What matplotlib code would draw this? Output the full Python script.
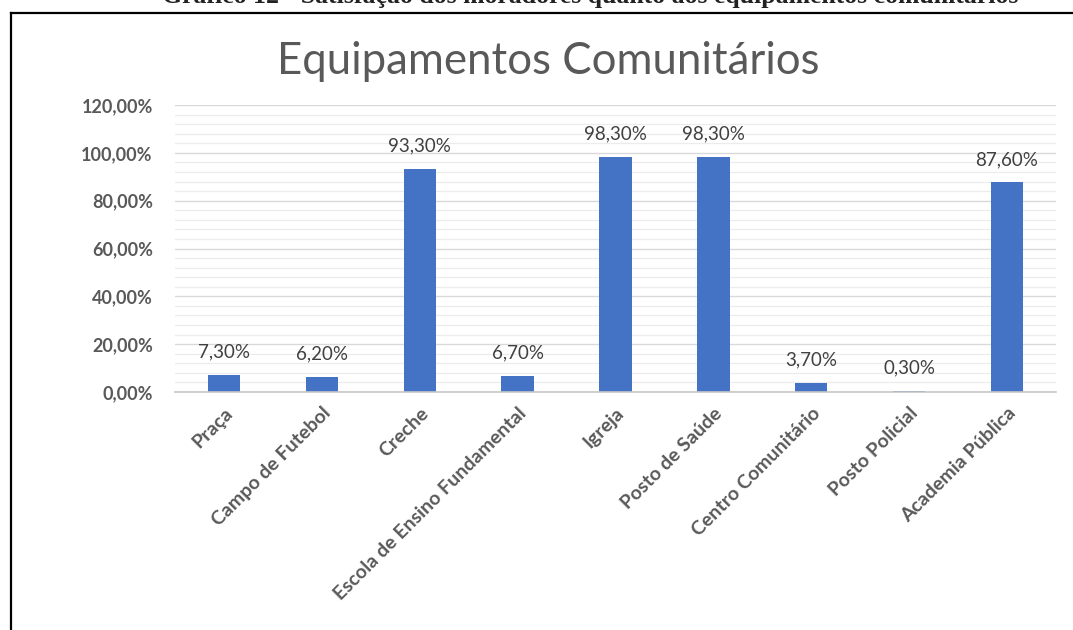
import matplotlib
matplotlib.use("Agg")
import matplotlib.pyplot as plt
from matplotlib.ticker import MultipleLocator, FuncFormatter
from matplotlib.lines import Line2D

categories = ["Praça", "Campo de Futebol", "Creche", "Escola de Ensino Fundamental",
              "Igreja", "Posto de Saúde", "Centro Comunitário", "Posto Policial",
              "Academia Pública"]
values = [7.3, 6.2, 93.3, 6.7, 98.3, 98.3, 3.7, 0.3, 87.6]

title = "Equipamentos Comunitários"
caption = "Gráfico 12 - Satisfação dos moradores quanto aos equipamentos comunitários"

bar_color = "#4472C4"
text_gray = "#595959"
label_gray = "#404040"

def pct(v):
    return f"{v:.2f}".replace(".", ",") + "%"

fig = plt.figure(figsize=(10.73, 6.30), dpi=100)
W, H = 1073, 630

# caption above the framed chart
fig.text(590 / W, 1 - 3 / H, caption, ha="center", va="baseline",
         fontsize=18.5, fontweight="bold", family="Liberation Serif", color="#222222")

# chart frame (left and top edges)
fig.add_artist(Line2D([11 / W, 11 / W], [0, 1 - 13 / H], transform=fig.transFigure,
                      color="black", lw=1.6))
fig.add_artist(Line2D([11 / W, 1], [1 - 13 / H, 1 - 13 / H], transform=fig.transFigure,
                      color="black", lw=1.6))

ax = fig.add_axes([175 / W, 1 - 392 / H, (1056 - 175) / W, (392 - 105) / H])

x = range(len(categories))
ax.bar(x, values, width=0.33, color=bar_color, zorder=3)
ax.set_xlim(-0.5, len(categories) - 0.5)
ax.set_ylim(0, 120)

ax.yaxis.set_major_locator(MultipleLocator(20))
ax.yaxis.set_minor_locator(MultipleLocator(4))
ax.yaxis.set_major_formatter(FuncFormatter(lambda v, _: pct(v)))
ax.grid(axis="y", which="major", color="#d9d9d9", lw=1.0, zorder=0)
ax.grid(axis="y", which="minor", color="#ececec", lw=0.9, zorder=0)

for s in ["top", "right", "left"]:
    ax.spines[s].set_visible(False)
ax.spines["bottom"].set_color("#c8c8c8")
ax.spines["bottom"].set_linewidth(1.2)
ax.spines["bottom"].set_zorder(4)

ax.tick_params(axis="both", which="both", length=0)
ax.tick_params(axis="y", pad=16)
for lab in ax.get_yticklabels():
    lab.set_fontfamily("Lato")
    lab.set_fontweight("bold")
    lab.set_fontsize(13)
    lab.set_color(text_gray)

ax.set_xticks(list(x))
ax.set_xticklabels(categories, rotation=45, ha="right", rotation_mode="anchor",
                   fontfamily="Lato", fontweight="bold", fontsize=14, color=text_gray)
ax.tick_params(axis="x", pad=9)

for xi, v in zip(x, values):
    ax.annotate(pct(v), (xi, v), xytext=(0, 16.5), textcoords="offset points",
                ha="center", va="center", fontsize=13.5, family="Lato", color=label_gray)

fig.text(548 / W, 1 - 61 / H, title, ha="center", va="center",
         fontsize=31.5, family="Lato", color=text_gray)

fig.savefig("out.png", dpi=100, facecolor="white")
